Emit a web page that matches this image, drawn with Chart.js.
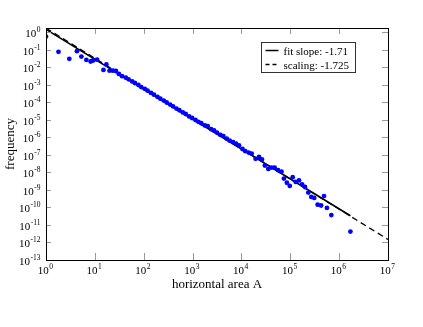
<!DOCTYPE html>
<html>
<head>
<meta charset="utf-8">
<script src="https://cdn.jsdelivr.net/npm/chart.js@4.4.0/dist/chart.umd.min.js"></script>
<style>
html, body { margin: 0; padding: 0; background: #fff; }
</style>
</head>
<body>
<canvas id="chart" width="423" height="327"></canvas>
<script>
// binned horizontal areas and their frequency
const areaA = [1, 1.8, 3, 4.3, 5.3, 6.7, 8.2, 9.2, 11.1, 15, 17.2, 20, 23.4, 27, 31,
    36, 43, 49, 58, 66, 78, 89, 105, 120, 141, 162, 191, 219, 257, 295,
    347, 398, 468, 537, 631, 724, 851, 977, 1150, 1320, 1510, 1780, 2040, 2400, 2750,
    3160, 3720, 4270, 5010, 5750, 6760, 7760, 8910, 10500, 12000, 14100, 16200, 19500, 22900, 26300,
    30200, 35500, 41700, 47900, 56200, 66100, 74100, 85100, 97700, 112000, 129000, 151000, 174000, 200000, 234000,
    269000, 309000, 363000, 427000, 490000, 562000, 692000, 1700000];
const freq = [0.58, 0.078, 0.031, 0.085, 0.042, 0.027, 0.022, 0.025, 0.028, 0.0072, 0.015, 0.0066, 0.0066, 0.0063, 0.0043,
    0.0032, 0.0026, 0.0021, 0.0016, 0.0013, 0.001, 7.6e-4, 6.0e-4, 4.7e-4, 3.5e-4, 2.8e-4, 2.1e-4, 1.66e-4, 1.29e-4, 1.0e-4,
    7.6e-5, 6.0e-5, 4.5e-5, 3.6e-5, 2.7e-5, 2.2e-5, 1.6e-5, 1.3e-5, 1.0e-5, 7.8e-6, 6.5e-6, 4.9e-6, 4.4e-6, 3.0e-6, 2.5e-6,
    1.9e-6, 1.4e-6, 1.2e-6, 8.5e-7, 6.6e-7, 5.4e-7, 4.4e-7, 3.5e-7, 2.2e-7, 1.66e-7, 1.38e-7, 1.2e-7, 6.0e-8, 7.9e-8, 5.6e-8,
    2.5e-8, 1.6e-8, 1.9e-8, 1.86e-8, 1.35e-8, 1.12e-8, 4.5e-9, 2.6e-9, 1.7e-9, 5.4e-9, 2.9e-9, 3.5e-9, 2.1e-9, 1.48e-9, 7.1e-10,
    4.0e-10, 3.5e-10, 1.45e-10, 1.3e-10, 4.5e-10, 9.5e-11, 3.7e-11, 4.2e-12];

// power-law lines, end points only
const fitA = [1, 1700000];
const fitFreq = [1.51, 3.4e-11];
const scalingA = [1, 1e7];
const scalingFreq = [1.78, 1.5e-12];

const legendLabels = ['fit slope: -1.71', 'scaling: -1.725'];

const xTicks = [1, 10, 100, 1e3, 1e4, 1e5, 1e6, 1e7];
const xTickExp = ['0', '1', '2', '3', '4', '5', '6', '7'];
const yTicks = [1, 1e-1, 1e-2, 1e-3, 1e-4, 1e-5, 1e-6, 1e-7, 1e-8, 1e-9, 1e-10, 1e-11, 1e-12, 1e-13];
const yTickExp = ['0', '-1', '-2', '-3', '-4', '-5', '-6', '-7', '-8', '-9', '-10', '-11', '-12', '-13'];

const SERIF = '"Liberation Serif", "DejaVu Serif", serif';

function toPoints(xs, ys) {
    return xs.map((x, i) => ({ x: x, y: ys[i] }));
}

// "10" with a raised exponent
function drawPower(ctx, exp, x, y, align) {
    ctx.font = '11px ' + SERIF;
    const wBase = ctx.measureText('10').width;
    ctx.font = '7.5px ' + SERIF;
    const wExp = ctx.measureText(exp).width;
    let start = x;
    if (align === 'center') start = x - (wBase + wExp) / 2;
    if (align === 'right') start = x - (wBase + wExp);
    ctx.textAlign = 'left';
    ctx.textBaseline = 'alphabetic';
    ctx.font = '11px ' + SERIF;
    ctx.fillText('10', start, y);
    ctx.font = '7.5px ' + SERIF;
    ctx.fillText(exp, start + wBase + 0.5, y - 5);
}

const framePlugin = {
    id: 'frame',
    afterDraw(chart) {
        const ctx = chart.ctx;
        const a = chart.chartArea;
        const sx = chart.scales.x;
        const sy = chart.scales.y;
        ctx.save();

        // inward ticks
        ctx.strokeStyle = '#999';
        ctx.lineWidth = 1;
        ctx.beginPath();
        xTicks.forEach(v => {
            const px = Math.round(sx.getPixelForValue(v)) + 0.5;
            ctx.moveTo(px, a.bottom);
            ctx.lineTo(px, a.bottom - 7);
            ctx.moveTo(px, a.top);
            ctx.lineTo(px, a.top + 6);
        });
        yTicks.forEach(v => {
            const py = Math.round(sy.getPixelForValue(v)) + 0.5;
            ctx.moveTo(a.left, py);
            ctx.lineTo(a.left + 5, py);
            ctx.moveTo(a.right, py);
            ctx.lineTo(a.right - 6, py);
        });
        ctx.stroke();

        // frame
        ctx.strokeStyle = '#000';
        ctx.strokeRect(Math.round(a.left) + 0.5, Math.round(a.top) + 0.5,
            Math.round(a.right - a.left), Math.round(a.bottom - a.top));

        // tick labels
        ctx.fillStyle = '#000';
        xTicks.forEach((v, i) => {
            drawPower(ctx, xTickExp[i], sx.getPixelForValue(v) - 1, a.bottom + 14, 'center');
        });
        yTicks.forEach((v, i) => {
            drawPower(ctx, yTickExp[i], a.left - 6, sy.getPixelForValue(v) + 5, 'right');
        });

        // axis titles
        ctx.font = '13px ' + SERIF;
        ctx.textAlign = 'center';
        ctx.textBaseline = 'middle';
        ctx.fillText('horizontal area A', (a.left + a.right) / 2, a.bottom + 25);
        ctx.save();
        ctx.translate(11, (a.top + a.bottom) / 2);
        ctx.rotate(-Math.PI / 2);
        ctx.fillText('frequency', 0, 0);
        ctx.restore();

        // legend box
        const lx = 261.5, ly = 42.5;
        ctx.strokeStyle = '#333';
        ctx.lineWidth = 1;
        ctx.strokeRect(lx, ly, 94, 30);
        ctx.strokeStyle = '#000';
        ctx.lineWidth = 1.5;
        ctx.beginPath();
        ctx.moveTo(lx + 4, ly + 8);
        ctx.lineTo(lx + 17, ly + 8);
        ctx.stroke();
        ctx.setLineDash([4, 3]);
        ctx.beginPath();
        ctx.moveTo(lx + 4, ly + 22);
        ctx.lineTo(lx + 18, ly + 22);
        ctx.stroke();
        ctx.setLineDash([]);
        ctx.font = '11px ' + SERIF;
        ctx.textAlign = 'left';
        ctx.textBaseline = 'alphabetic';
        ctx.fillText(legendLabels[0], lx + 22, ly + 12);
        ctx.fillText(legendLabels[1], lx + 22, ly + 26);

        ctx.restore();
    }
};

new Chart(document.getElementById('chart').getContext('2d'), {
    type: 'scatter',
    data: {
        datasets: [
            {
                label: 'data',
                data: toPoints(areaA, freq),
                backgroundColor: '#0000ff',
                borderColor: '#0000ff',
                pointRadius: 2.4,
                pointBorderWidth: 0,
                order: 0
            },
            {
                label: legendLabels[0],
                type: 'line',
                data: toPoints(fitA, fitFreq),
                borderColor: '#000',
                borderWidth: 1.6,
                pointRadius: 0,
                fill: false,
                order: 1
            },
            {
                label: legendLabels[1],
                type: 'line',
                data: toPoints(scalingA, scalingFreq),
                borderColor: '#000',
                borderWidth: 1.3,
                borderDash: [6, 4],
                pointRadius: 0,
                fill: false,
                order: 2
            }
        ]
    },
    options: {
        responsive: false,
        animation: false,
        devicePixelRatio: 1,
        layout: {
            padding: { top: 28, right: 35, left: 0, bottom: 0 }
        },
        scales: {
            x: {
                type: 'logarithmic',
                min: 1,
                max: 1e7,
                ticks: { display: false },
                grid: { display: false },
                border: { display: false },
                afterFit: function (scale) { scale.height = 67; }
            },
            y: {
                type: 'logarithmic',
                min: 1e-13,
                max: 1.8,
                ticks: { display: false },
                grid: { display: false },
                border: { display: false },
                afterFit: function (scale) { scale.width = 46; }
            }
        },
        plugins: {
            legend: { display: false },
            tooltip: { enabled: false }
        }
    },
    plugins: [framePlugin]
});
</script>
</body>
</html>
